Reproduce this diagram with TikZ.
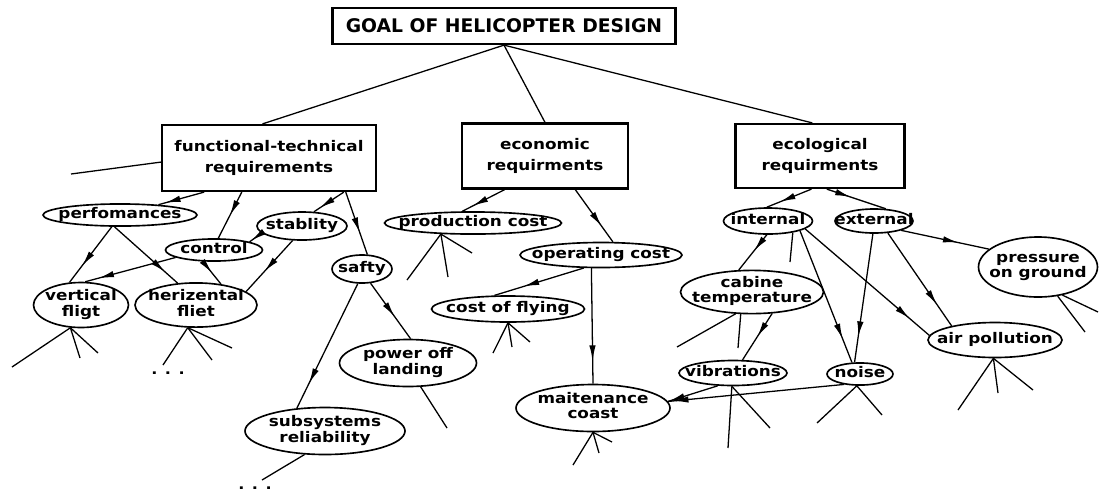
\documentclass[tikz,border=0pt]{standalone}
\usepackage{fontspec}
\newfontfamily\lblfont[FakeStretch=1.15]{DejaVu Sans}
\newfontfamily\goalfont{DejaVu Sans}
\usetikzlibrary{shapes.geometric,arrows.meta,decorations.markings,calc}
\renewcommand{\arraystretch}{0.85}
\newcommand{\ct}[1]{\makebox[0pt]{\begin{tabular}{@{}c@{}}#1\end{tabular}}}
\begin{document}
\begin{tikzpicture}[x=0.03cm,y=-0.03cm,
  ell/.style 2 args={ellipse,draw,line width=1.4pt,minimum width=#1*0.03cm,minimum height=#2*0.03cm,inner sep=0pt,
    font=\lblfont\bfseries\fontsize{12.5}{15}\selectfont},
  box/.style 2 args={rectangle,draw,line width=1.9pt,minimum width=#1*0.03cm,minimum height=#2*0.03cm,inner sep=0pt,
    align=center,font=\lblfont\bfseries\fontsize{12.5}{18}\selectfont},
  ln/.style={line width=1.1pt},
  arr/.style={ln,postaction={decorate},decoration={markings,mark=at position #1 with {\arrow{Latex[length=13pt,width=5.5pt]}}}},
  arr/.default=0.7,
  dots/.style={font=\lblfont\bfseries\fontsize{12}{12}\selectfont,inner sep=0pt}
]
\useasboundingbox (0,0) rectangle (1100,493);

% top level
\node[box={343}{36},font=\goalfont\bfseries\fontsize{16}{17}\selectfont] (goal) at (504,26) {GOAL OF HELICOPTER DESIGN};
\node[box={214}{66}] (func) at (269,158) {functional-technical\\requirements};
\node[box={166}{65}] (econ) at (545,156) {economic\\requirments};
\node[box={169}{64}] (ecol) at (820,156) {ecological\\requirments};

% functional-technical subtree
\node[ell={154}{18}] (perf) at (120,215) {\ct{perfomances}};
\node[ell={97}{18}] (ctrl) at (214,250) {\ct{control}};
\node[ell={90}{28}] (stab) at (302,226) {\ct{stablity}};
\node[ell={60}{28}] (safe) at (362,269) {\ct{safty}};
\node[ell={95}{45}] (vert) at (81,305) {\ct{vertical\\fligt}};
\node[ell={122}{44}] (horiz) at (196,305) {\ct{herizental\\fliet}};
\node[ell={137}{47}] (power) at (408,363) {\ct{power off\\landing}};
\node[ell={160}{47}] (subs) at (325,431) {\ct{subsystems\\reliability}};

% economic subtree
\node[ell={177}{18}] (prod) at (473,223) {\ct{production cost}};
\node[ell={162}{25}] (oper) at (601,255) {\ct{operating cost}};
\node[ell={153}{26}] (fly) at (508,309) {\ct{cost of flying}};
\node[ell={154}{47}] (maint) at (593,408) {\ct{maitenance\\coast}};

% ecological subtree
\node[ell={89}{26}] (intl) at (768,221) {\ct{internal}};
\node[ell={78}{24}] (extl) at (874,221) {\ct{external}};
\node[ell={119}{60}] (press) at (1038,267) {\ct{pressure\\on ground}};
\node[ell={143}{40}] (cab) at (752,292) {\ct{cabine\\temperature}};
\node[ell={108}{25}] (vib) at (733,373) {\ct{vibrations}};
\node[ell={66}{18}] (noise) at (860,374) {\ct{noise}};
\node[ell={134}{35}] (air) at (995,340) {\ct{air pollution}};

% dots
\node[dots] (dots1) at (168,373) {. . .};
\node[dots] (dots2) at (255,488) {. . .};

% goal connectors
\draw[ln] (goal.south) -- ($(func.north west)!0.47!(func.north east)$);
\draw[ln] (goal.south) -- (econ.north);
\draw[ln] (goal.south) -- ($(ecol.north west)!0.455!(ecol.north east)$);

% functional-technical connectors
\coordinate (fl) at (71,174);
\draw[ln] ($(func.north west)!0.56!(func.south west)$) -- (fl);
\draw[arr=0.85] ($(func.south west)!0.2!(func.south east)$) -- (perf.15);
\draw[arr=0.5] ($(func.south west)!0.374!(func.south east)$) -- (ctrl.70);
\draw[arr=0.8] ($(func.south west)!0.846!(func.south east)$) -- (stab.50);
\draw[arr=0.65] ($(func.south west)!0.855!(func.south east)$) -- (safe.70);
\draw[arr=0.85] (stab.190) -- (ctrl.13);
\draw[arr=0.7] (perf.-125) -- (vert.117);
\draw[arr=0.8] (perf.-115) -- (horiz.130);
\draw[arr=0.85] (ctrl.-169) -- (vert.80);
\draw[arr=0.5] (ctrl.-134) -- (horiz.40);
\draw[arr=0.6] (stab.-123) -- (horiz.15);
\draw[arr=0.6] (safe.-59) -- (power.84);
\draw[arr=0.8] (safe.-106) -- (subs.141);

% functional-technical stubs
\coordinate (v1) at (12,367); \coordinate (v2) at (80,358); \coordinate (v3) at (98,353);
\draw[ln] (vert.-115) -- (v1); \draw[ln] (vert.-115) -- (v2); \draw[ln] (vert.-115) -- (v3);
\coordinate (h1) at (163,365); \coordinate (h2) at (212,360); \coordinate (h3) at (232,348);
\draw[ln] (horiz.-110) -- (h1); \draw[ln] (horiz.-110) -- (h2); \draw[ln] (horiz.-110) -- (h3);
\coordinate (sb1) at (262,480);
\draw[ln] (subs.-131) -- (sb1);
\coordinate (pw1) at (447,428);
\draw[ln] (power.-62) -- (pw1);

% economic connectors
\draw[arr=0.75] ($(econ.south west)!0.26!(econ.south east)$) -- (prod.132);
\draw[arr=0.7] ($(econ.south west)!0.68!(econ.south east)$) -- (oper.48);
\draw[arr=0.67] (oper.-143) -- (fly.135);
\draw[arr=0.8] (oper.-126) -- (maint.north);

% economic stubs
\coordinate (p1) at (407,280); \coordinate (p2) at (448,277); \coordinate (p3) at (472,253);
\draw[ln] (prod.-161) -- (p1); \draw[ln] (prod.-161) -- (p2); \draw[ln] (prod.-161) -- (p3);
\coordinate (f1) at (493,353); \coordinate (f2) at (512,347); \coordinate (f3) at (530,342);
\draw[ln] (fly.south) -- (f1); \draw[ln] (fly.south) -- (f2); \draw[ln] (fly.south) -- (f3);
\coordinate (m1) at (573,465); \coordinate (m2) at (599,453); \coordinate (m3) at (612,442);
\draw[ln] (maint.south) -- (m1); \draw[ln] (maint.south) -- (m2); \draw[ln] (maint.south) -- (m3);

% ecological connectors
\draw[arr=0.7] ($(ecol.south west)!0.45!(ecol.south east)$) -- (intl.95);
\draw[arr=0.4] ($(ecol.south west)!0.54!(ecol.south east)$) -- (extl.46);
\draw[arr=0.65] (extl.-19) -- (press.160);
\draw[arr=0.45] (intl.-95) -- (cab.121);
\draw[arr=0.82] (intl.-17) -- (noise.125);
\draw[arr=0.84] (intl.-12) -- (air.176);
\draw[arr=0.8] (extl.-95) -- (noise.115);
\draw[arr=0.77] (extl.-41) -- (air.162);
\draw[arr=0.5] (cab.-47) -- (vib.54);
\draw[arr=0.97] (noise.-147) -- (maint.5);
\draw[arr=0.97] (vib.-140) -- (maint.5);

% ecological stubs
\coordinate (i1) at (790,262);
\draw[ln] (intl.-25) -- (i1);
\coordinate (c1) at (738,348); \coordinate (c2) at (677,347);
\draw[ln] (cab.-117) -- (c1); \draw[ln] (cab.-127) -- (c2);
\coordinate (vb1) at (728,448); \coordinate (vb2) at (770,428);
\draw[ln] (vib.-95) -- (vb1); \draw[ln] (vib.-95) -- (vb2);
\coordinate (n1) at (817,423); \coordinate (n2) at (882,415);
\draw[ln] (noise.-105) -- (n1); \draw[ln] (noise.-105) -- (n2);
\coordinate (a1) at (958,410); \coordinate (a2) at (998,393); \coordinate (a3) at (1033,390);
\draw[ln] (air.-95) -- (a1); \draw[ln] (air.-95) -- (a2); \draw[ln] (air.-95) -- (a3);
\coordinate (pr1) at (1085,332); \coordinate (pr2) at (1098,312);
\draw[ln] (press.-56) -- (pr1); \draw[ln] (press.-49) -- (pr2);
\end{tikzpicture}
\end{document}
